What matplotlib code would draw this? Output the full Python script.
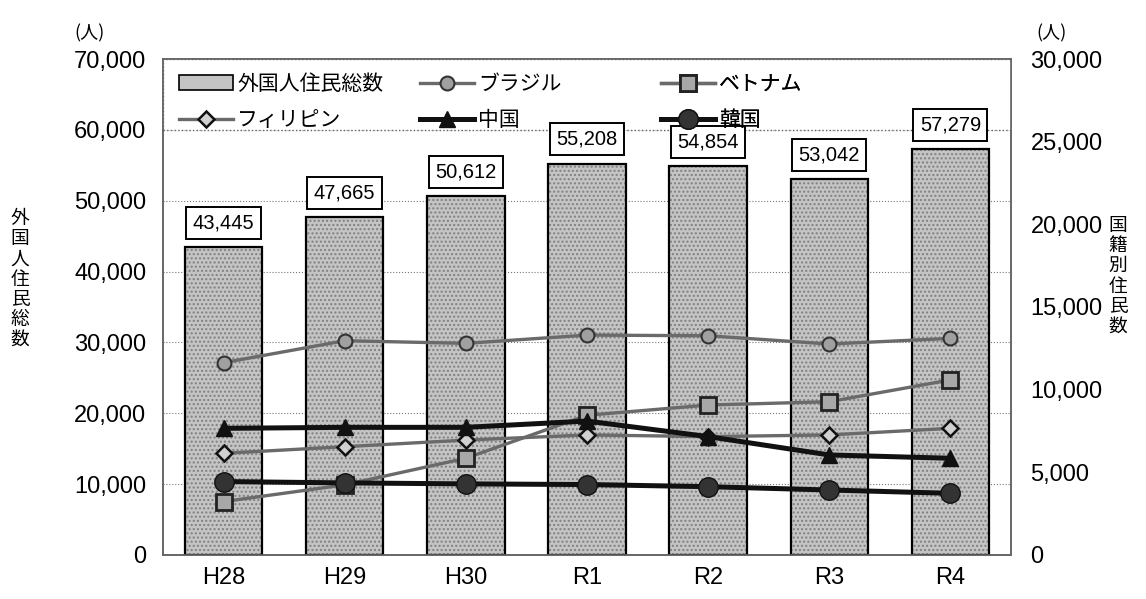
import numpy as np
import matplotlib.pyplot as plt
from matplotlib.patches import Rectangle, Patch
from matplotlib.lines import Line2D
from matplotlib.ticker import FuncFormatter

# 日本語フォント
plt.rcParams['font.family'] = ['Noto Sans CJK JP', 'DejaVu Sans']
NUM = ['Liberation Sans', 'DejaVu Sans']

# データ
years = ['H28', 'H29', 'H30', 'R1', 'R2', 'R3', 'R4']
total = [43445, 47665, 50612, 55208, 54854, 53042, 57279]
brazil = [11630, 12960, 12800, 13300, 13260, 12760, 13100]
vietnam = [3230, 4240, 5850, 8450, 9070, 9270, 10590]
philippines = [6150, 6550, 6950, 7260, 7160, 7260, 7660]
china = [7660, 7720, 7720, 8100, 7160, 6050, 5850]
korea = [4440, 4360, 4300, 4260, 4130, 3930, 3730]

fig = plt.figure(figsize=(11.46, 5.99), dpi=100)
ax = fig.add_axes([0.1422, 0.0735, 0.740, 0.828])
x = np.arange(len(years))

# 棒グラフ（総数）
ax.bar(x, total, width=0.64, color='#c4c4c4', edgecolor='#808080', hatch='....',
       linewidth=0, zorder=2)
ax.bar(x, total, width=0.64, fill=False, edgecolor='black', linewidth=1.6, zorder=3)
ax.set_xlim(-0.5, 6.5)
ax.set_ylim(0, 70000)
ax.set_yticks(np.arange(0, 70001, 10000))
ax.yaxis.set_major_formatter(FuncFormatter(lambda v, p: f'{int(v):,}'))
ax.grid(axis='y', linestyle=':', color='#777777', linewidth=0.8, zorder=0)
ax.set_axisbelow(True)
ax.set_xticks(x)
ax.set_xticklabels(years)

# 凡例エリア
ax.add_patch(Rectangle((-0.5, 60000), 7, 10000, facecolor='white', edgecolor='#666666',
                       linestyle=':', linewidth=1.0, zorder=4))

for xi, v in zip(x, total):
    ax.annotate(f'{v:,}', (xi, v), xytext=(0, 17.6), textcoords='offset points',
                ha='center', va='center', fontsize=14.5, family=NUM, zorder=6,
                bbox=dict(boxstyle='square,pad=0.32', fc='white', ec='black', lw=1.4))

# 国籍別（右軸）
ax2 = ax.twinx()
ax2.set_ylim(0, 30000)
ax2.set_yticks(np.arange(0, 30001, 5000))
ax2.yaxis.set_major_formatter(FuncFormatter(lambda v, p: f'{int(v):,}'))

gray = '#6a6a6a'
styles = {
    'ブラジル': dict(color=gray, lw=2.4, marker='o', ms=10, mfc='#a0a0a0', mec='#333333', mew=1.5),
    'ベトナム': dict(color=gray, lw=2.4, marker='s', ms=11, mfc='#a8a8a8', mec='#222222', mew=2),
    'フィリピン': dict(color=gray, lw=2.4, marker='D', ms=8.5, mfc='#d0d0d0', mec='#111111', mew=1.8),
    '中国': dict(color='#111111', lw=3.6, marker='^', ms=11, mfc='#111111', mec='#111111'),
    '韓国': dict(color='#111111', lw=3.6, marker='o', ms=14, mfc='#333333', mec='#111111'),
}
series = {'ブラジル': brazil, 'ベトナム': vietnam, 'フィリピン': philippines,
          '中国': china, '韓国': korea}
for name in ['ブラジル', 'フィリピン', 'ベトナム', '中国', '韓国']:
    ax2.plot(x, series[name], zorder=5, **styles[name])

# 軸の書式
for a in (ax, ax2):
    for s in a.spines.values():
        s.set_color('#666666')
        s.set_linewidth(1.2)
ax.tick_params(axis='y', length=0, pad=12, labelsize=17)
ax.tick_params(axis='x', length=0, pad=9, labelsize=17)
ax2.tick_params(axis='y', length=0, pad=14, labelsize=17)
for lab in ax.get_yticklabels() + ax.get_xticklabels() + ax2.get_yticklabels():
    lab.set_family(NUM)

# 凡例（3列を等間隔に配置）
h_total = Patch(facecolor='#c4c4c4', edgecolor='black', linewidth=1.2)
def line_handle(name):
    st = styles[name]
    return Line2D([], [], **st)

cols = [(0.019, [h_total, line_handle('フィリピン')], ['外国人住民総数', 'フィリピン']),
        (0.303, [line_handle('ブラジル'), line_handle('中国')], ['ブラジル', '中国']),
        (0.587, [line_handle('ベトナム'), line_handle('韓国')], ['ベトナム', '韓国'])]
for xa, hs, ls in cols:
    leg = ax2.legend(hs, ls, loc='upper left', bbox_to_anchor=(xa, 0.972), frameon=False,
                     borderpad=0, borderaxespad=0, handlelength=2.6, handletextpad=0.2,
                     labelspacing=0.7, fontsize=15, numpoints=1)
    ax2.add_artist(leg)

# 軸ラベル
fig.text(20 / 1146, 1 - 279 / 599, '\n'.join('外国人住民総数'), ha='center', va='center',
         fontsize=13.5, linespacing=0.95)
fig.text(1118 / 1146, 1 - 276 / 599, '\n'.join('国籍別住民数'), ha='center', va='center',
         fontsize=13.5, linespacing=0.95)
fig.text(90 / 1146, 1 - 33 / 599, '(人)', ha='center', va='center', fontsize=13)
fig.text(1052 / 1146, 1 - 33 / 599, '(人)', ha='center', va='center', fontsize=13)

fig.savefig('out.png', dpi=100)
